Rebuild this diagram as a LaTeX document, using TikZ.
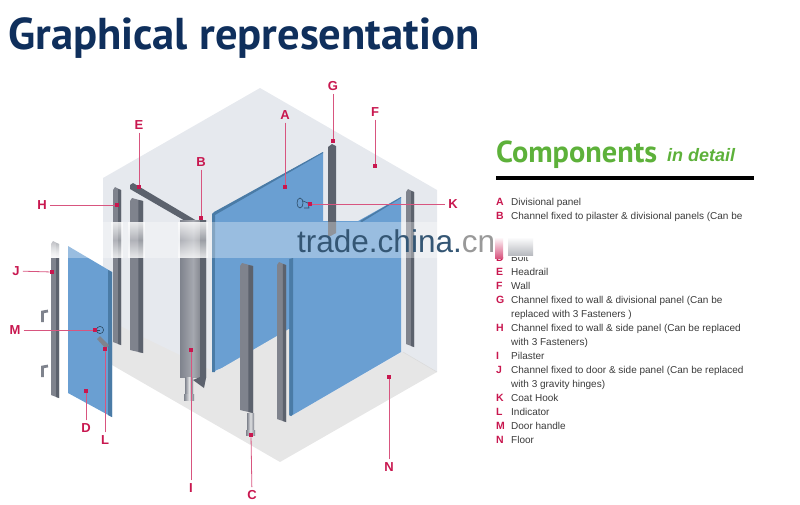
\documentclass[tikz,border=0pt]{standalone}
\usepackage{fontspec}
\setmainfont{Liberation Sans}
\newfontfamily\headfont{PT Sans}
\usetikzlibrary{fadings}
\definecolor{wallc}{HTML}{E6E9EE}
\definecolor{floorc}{HTML}{E6E6E6}
\definecolor{panelc}{HTML}{6A9FD2}
\definecolor{paneld}{HTML}{4A7BA6}
\definecolor{chanl}{HTML}{7F838D}
\definecolor{chand}{HTML}{5C626D}
\definecolor{markc}{HTML}{C8174F}
\definecolor{linec}{HTML}{D8557F}
\definecolor{navyc}{HTML}{0F2F5C}
\definecolor{greenc}{HTML}{5DB13A}
\definecolor{textc}{HTML}{3A3A3A}
\tikzfading[name=midfade,top color=transparent!25,bottom color=transparent!25,middle color=transparent!90]
\tikzset{
  lab/.style={text=markc,font=\bfseries\fontsize{13}{13}\selectfont,inner sep=3pt},
  dot/.style={fill=markc,minimum size=4.5pt,inner sep=0pt},
  lead/.style={draw=linec,line width=.8pt},
  key/.style={anchor=base west,text=markc,font=\bfseries\fontsize{10.5}{10.5}\selectfont,inner sep=0pt},
  row/.style={anchor=base west,text=textc,font=\fontsize{10}{10}\selectfont,inner sep=0pt},
  hook/.style={draw=chanl,line width=2.8pt},
  thin outline/.style={draw=paneld!60!black,line width=.6pt},
  foot/.style={left color=chanl,right color=chanl,middle color=white!75!chanl}
}
\newcommand{\chan}[4]{%
  \fill[chanl] (#1,#3+3) -- (#1+2,#3) -- (#2,#3+3) -- (#2,#4) -- (#1,#4-3) -- cycle;
  \fill[chand] ({#2-(#2-#1)*.35},#3+2) -- (#2,#3+3) -- (#2,#4) -- ({#2-(#2-#1)*.35},#4-1) -- cycle;}
\begin{document}
\begin{tikzpicture}[x=1pt,y=-1pt]
\useasboundingbox (0,0) rectangle (800,504);
% room
\fill[floorc] (112,365) -- (112,300) -- (403,352) -- (437,372) -- (280,462) -- cycle;
\fill[wallc] (103,178) -- (260,88) -- (437,190) -- (437,372) -- (403,352) -- (291,416) -- (215,372) -- (112,322) -- (103,320) -- cycle;
\draw[white!85!black,line width=.5pt] (403,352) -- (437,372);
% headrail
\fill[chand] (130,189) -- (130,185) -- (133,183) -- (197,221) -- (187,222) -- cycle;
% left channels
\chan{113}{121}{187}{345}
\chan{130}{143}{198}{353}
\chan{51}{59}{241}{398}
% door
\fill[panelc] (68,246) -- (112,272) -- (112,417) -- (68,393) -- cycle;
\fill[paneld] (108,270) -- (112,272) -- (112,417) -- (108,415) -- cycle;
% hinges
\draw[hook] (42.5,322) -- (42.5,312) -- (48,311);
\draw[hook] (42.5,377) -- (42.5,367) -- (48,366);
% handle and indicator
\draw[thin outline] (100,330) circle (3.6);
\draw[thin outline] (96,330) -- (100,330);
\fill[chanl] (97,339) -- (100,336) -- (109,345) -- (106,349) -- cycle;
% pilaster
\shade[left color=chanl,right color=chanl!85!black,middle color=chanl!70!white] (180,220) -- (206,220) -- (206,377) -- (180,377) -- cycle;
\fill[chand] (200,220) -- (206,220) -- (206,378) -- (204,388) -- (193,380) -- (200,377) -- cycle;
\shade[foot] (185,377) rectangle (193,397);
\shade[foot] (184,394) rectangle (194,400);
% panel A
\fill[panelc] (212,214) -- (323,152) -- (323,340) -- (212,371) -- cycle;
\fill[paneld] (212,214) -- (214,212) -- (323,152) -- (323,153) -- (215,215) -- (215,372) -- (212,372) -- cycle;
\draw[thin outline] (300,203) ellipse (3 and 5);
\draw[thin outline] (303,201) -- (308,203) -- (309,208) -- (304,208);
% blue gap under the band
\fill[panelc] (323,221) rectangle (362,258);
% G channel and right channel
\fill[chand] (328,147) -- (332,144) -- (336,146) -- (336,236) -- (328,236) -- cycle;
\chan{406}{414}{189}{347}
% main panel N
\fill[panelc] (291,258) -- (360,220) -- (401,197) -- (401,352) -- (291,416) -- cycle;
\fill[paneld] (360,221) -- (401,197) -- (401,198) -- (362,222) -- cycle;
\fill[paneld] (289,259) -- (293,258) -- (293,414) -- (291,416) -- (289,415) -- cycle;
% panel A lower part
\fill[panelc] (215,258) -- (289,258) -- (289,328) -- (215,371) -- cycle;
\fill[floorc] (215,372) -- (289,329) -- (289,400) -- (215,400) -- cycle;
\fill[floorc] (215,372) -- (289,415) -- (289,400) -- cycle;
% free channels
\chan{277}{286}{262}{422}
\chan{240}{253}{263}{413}
\shade[foot] (247,413) rectangle (254,431);
\shade[foot] (246,430) rectangle (255,435);
% watermark band
\fill[white,opacity=.32] (40,222) rectangle (490,258);
\foreach \a/\b in {48/62,111/123,128/145,178/208}
  \fill[white,path fading=midfade] (\a,222) rectangle (\b,258);
\fill[white,path fading=midfade] (45,222) rectangle (68,258);
% connectors and labels
\foreach \n/\t/\lx/\ly/\dx/\dy in {
  a/A/285/115/285/187, b/B/201/162/201/218, c/C/252/495/251/435, d/D/86/428/86/391,
  e/E/139/125/139/187, f/F/375/112/375/166, g/G/333/86/333/141, h/H/42/205/117/205,
  i/I/191/488/191/350, j/J/16/271/52/272, k/K/453/204/310/204, l/L/105/440/105/349,
  m/M/15/330/95/330, n/N/389/467/389/377}{
  \node[dot] (dot\n) at (\dx,\dy) {};
  \node[lab] (lab\n) at (\lx,\ly) {\t};
  \draw[lead] (lab\n) -- (dot\n);
}
% title
\node[anchor=base west,inner sep=0pt,text=navyc,font=\headfont\bfseries\fontsize{44.6}{44.6}\selectfont] (title) at (8,49) {Graphical representation};
\node[anchor=base west,inner sep=0pt,text=greenc,font=\headfont\bfseries\fontsize{30.3}{30.3}\selectfont] (comp) at (496,162) {Components};
\node[anchor=base west,inner sep=0pt,text=greenc,font=\bfseries\itshape\fontsize{18}{18}\selectfont] (det) at (667,161) {in detail};
\draw[black,line width=3.5pt] (496,178) -- (754,178);
% list
\foreach \k/\y/\t in {A/205/Divisional panel,B/219/{Channel fixed to pilaster \& divisional panels (Can be},
  D/261/Bolt,E/275/Headrail,F/289/Wall,G/303/{Channel fixed to wall \& divisional panel  (Can be},
  H/331/{Channel fixed to wall \& side panel (Can be replaced},I/359/Pilaster,
  J/373/{Channel fixed to door \& side panel (Can be replaced},K/401/Coat Hook,L/415/Indicator,
  M/429/Door handle,N/443/Floor}{
  \node[key] at (496,\y) {\k};
  \node[row] at (511,\y) {\t};
}
\node[row] at (511,317) {replaced with 3 Fasteners )};
\node[row] at (511,345) {with 3 Fasteners)};
\node[row] at (511,387) {with 3 gravity hinges)};
% band over the list
\fill[white] (490,222) rectangle (800,257);
\shade[top color=white,bottom color=chanl!55!white] (508,237) rectangle (533,255);
\shade[top color=white,bottom color=linec] (495,237) rectangle (503,258);
% watermark text
\node[anchor=base west,inner sep=0pt,text=paneld!70!black,font=\fontsize{31.5}{31.5}\selectfont] (mark) at (297,252) {trade.china.\textcolor{black!40}{cn}};
\end{tikzpicture}
\end{document}
